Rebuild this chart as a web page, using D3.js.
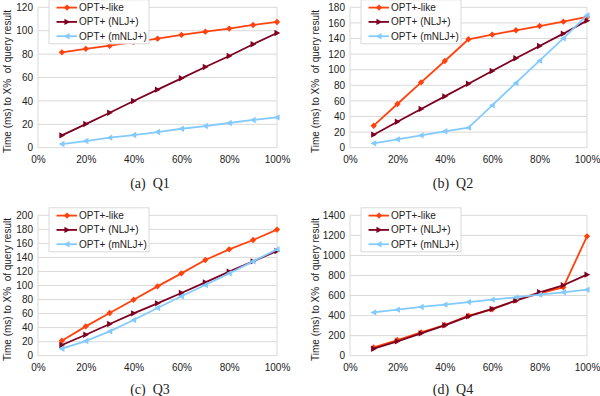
<!DOCTYPE html>
<html>
<head>
<meta charset="utf-8">
<script src="https://cdn.jsdelivr.net/npm/d3@7"></script>
<style>
  body { margin: 0; background: #fff; }
  svg { display: block; }
  text { font-family: "Liberation Sans", Arial, sans-serif; }
  .caption { font-family: "Liberation Serif", "Times New Roman", serif; }
</style>
</head>
<body>
<svg id="chart" width="600" height="396"></svg>
<script>
// ---- data ----
const xValues = [10, 20, 30, 40, 50, 60, 70, 80, 90, 100];
const xTicks = [0, 20, 40, 60, 80, 100];
const seriesNames = ["OPT+-like", "OPT+ (NLJ+)", "OPT+ (mNLJ+)"];
const seriesColors = ["#ff420e", "#7e0021", "#83caff"];

const q1Like  = [81.5, 84.5, 87.2, 90.2, 93.2, 96.4, 99.2, 101.8, 104.9, 107.5];
const q1NLJ   = [10.5, 20.2, 29.9, 39.9, 49.6, 59.3, 69.0, 78.4, 88.4, 98.0];
const q1MNLJ  = [3.1, 5.7, 8.6, 10.8, 13.4, 16.2, 18.5, 21.1, 23.7, 25.9];

const q2Like  = [28.2, 56.0, 83.8, 111.2, 139.0, 145.0, 150.5, 156.0, 161.6, 167.6];
const q2NLJ   = [16.7, 33.3, 49.6, 65.8, 82.0, 98.3, 114.6, 130.4, 146.2, 162.9];
const q2MNLJ  = [5.6, 10.7, 15.8, 21.0, 25.7, 54.3, 83.0, 111.6, 140.2, 169.7];

const q3Like  = [21.4, 41.8, 60.8, 79.8, 98.8, 117.3, 136.3, 151.5, 164.8, 179.6];
const q3NLJ   = [15.2, 29.9, 45.1, 60.3, 74.6, 89.3, 104.5, 119.7, 134.4, 149.2];
const q3MNLJ  = [10.0, 20.9, 34.7, 50.8, 67.9, 84.6, 100.7, 117.3, 134.4, 151.5];

const q4Like  = [83, 156, 233, 306, 399, 462, 552, 622, 682, 1190];
const q4NLJ   = [70, 143, 223, 303, 392, 466, 549, 632, 702, 808];
const q4MNLJ  = [432, 459, 486, 509, 535, 559, 582, 609, 632, 658];

const q1Ticks = [0, 20, 40, 60, 80, 100, 120];
const q2Ticks = [0, 20, 40, 60, 80, 100, 120, 140, 160, 180];
const q3Ticks = [0, 20, 40, 60, 80, 100, 120, 140, 160, 180, 200];
const q4Ticks = [0, 200, 400, 600, 800, 1000, 1200, 1400];

const captions = ["(a)  Q1", "(b)  Q2", "(c)  Q3", "(d)  Q4"];
const yTitle = "Time (ms) to X%  of query result";

// ---- layout ----
const panels = [
  { left: 38,  right: 277, top: 7.3,   bottom: 147.7, ticks: q1Ticks, data: [q1Like, q1NLJ, q1MNLJ], caption: captions[0], capX: 150, capY: 188, titleX: 7.5 },
  { left: 350, right: 587, top: 7.3,   bottom: 147.7, ticks: q2Ticks, data: [q2Like, q2NLJ, q2MNLJ], caption: captions[1], capX: 453, capY: 188, titleX: 315.5 },
  { left: 38,  right: 277, top: 215.3, bottom: 355.7, ticks: q3Ticks, data: [q3Like, q3NLJ, q3MNLJ], caption: captions[2], capX: 150, capY: 394, titleX: 7.5 },
  { left: 350, right: 587, top: 215.3, bottom: 355.7, ticks: q4Ticks, data: [q4Like, q4NLJ, q4MNLJ], caption: captions[3], capX: 453, capY: 394, titleX: 315.5 }
];

const svg = d3.select("#chart");
const gridColor = "#d9d9d9";

function markerPath(kind, s) {
  if (kind === 0) { // diamond
    return `M0,${-s}L${s},0L0,${s}L${-s},0Z`;
  } else if (kind === 1) { // right-pointing triangle
    return `M${s},0L${-s * 0.8},${-s}L${-s * 0.8},${s}Z`;
  } else { // left-pointing triangle
    return `M${-s},0L${s * 0.8},${-s}L${s * 0.8},${s}Z`;
  }
}

panels.forEach(p => {
  const g = svg.append("g");
  const yMax = p.ticks[p.ticks.length - 1];
  const x = d3.scaleLinear().domain([0, 100]).range([p.left, p.right]);
  const y = d3.scaleLinear().domain([0, yMax]).range([p.bottom, p.top]);

  // horizontal grid lines
  g.append("g").selectAll("line").data(p.ticks).join("line")
    .attr("x1", p.left).attr("x2", p.right)
    .attr("y1", d => y(d)).attr("y2", d => y(d))
    .attr("stroke", gridColor).attr("stroke-width", 1);
  // left and right frame lines
  [p.left, p.right].forEach(xx => {
    g.append("line").attr("x1", xx).attr("x2", xx)
      .attr("y1", p.top).attr("y2", p.bottom)
      .attr("stroke", gridColor).attr("stroke-width", 1);
  });

  // y axis (labels only)
  const yAxis = d3.axisLeft(y).tickValues(p.ticks).tickFormat(d3.format("d")).tickSize(0).tickPadding(5);
  const ya = g.append("g").attr("transform", `translate(${p.left},0)`).call(yAxis);
  ya.select(".domain").remove();
  ya.selectAll("text").attr("font-size", 10).attr("fill", "#222")
    .style("font-family", '"Liberation Sans", Arial, sans-serif');

  // x axis (labels only)
  const xAxis = d3.axisBottom(x).tickValues(xTicks).tickFormat(d => d + "%").tickSize(0).tickPadding(8);
  const xa = g.append("g").attr("transform", `translate(0,${p.bottom})`).call(xAxis);
  xa.select(".domain").remove();
  xa.selectAll("text").attr("font-size", 10).attr("fill", "#222")
    .style("font-family", '"Liberation Sans", Arial, sans-serif');

  // y title
  g.append("text")
    .attr("transform", `translate(${p.titleX},${(p.top + p.bottom) / 2 + 4}) rotate(-90)`)
    .attr("text-anchor", "middle").attr("dominant-baseline", "central")
    .attr("font-size", 10).attr("fill", "#222")
    .style("white-space", "pre").attr("xml:space", "preserve")
    .text(yTitle);

  // series
  const line = d3.line().x((d, i) => x(xValues[i])).y(d => y(d));
  p.data.forEach((vals, si) => {
    g.append("path").datum(vals)
      .attr("d", line)
      .attr("fill", "none")
      .attr("stroke", seriesColors[si])
      .attr("stroke-width", 1.8)
      .attr("stroke-linejoin", "round");
    g.append("g").selectAll("path").data(vals).join("path")
      .attr("transform", (d, i) => `translate(${x(xValues[i])},${y(d)})`)
      .attr("d", markerPath(si, 3.2))
      .attr("fill", seriesColors[si]);
  });

  // legend
  const lx = p.left + 11, ly = p.top - 7.5;
  const lg = g.append("g").attr("transform", `translate(${lx},${ly})`);
  lg.append("rect").attr("x", 0).attr("y", 0).attr("width", 100).attr("height", 44)
    .attr("fill", "#fff").attr("stroke", gridColor).attr("stroke-width", 1);
  seriesNames.forEach((name, si) => {
    const ry = 7.8 + si * 14.3;
    lg.append("line").attr("x1", 7.5).attr("x2", 28).attr("y1", ry).attr("y2", ry)
      .attr("stroke", seriesColors[si]).attr("stroke-width", 1.8);
    lg.append("path").attr("transform", `translate(18,${ry})`)
      .attr("d", markerPath(si, 3.2)).attr("fill", seriesColors[si]);
    lg.append("text").attr("x", 30).attr("y", ry).attr("dominant-baseline", "central")
      .attr("font-size", 10).attr("fill", "#222").text(name);
  });

  // caption
  g.append("text").attr("class", "caption")
    .attr("x", p.capX).attr("y", p.capY)
    .attr("text-anchor", "middle").attr("font-size", 14).attr("fill", "#222")
    .style("white-space", "pre").attr("xml:space", "preserve")
    .text(p.caption);
});
</script>
</body>
</html>
